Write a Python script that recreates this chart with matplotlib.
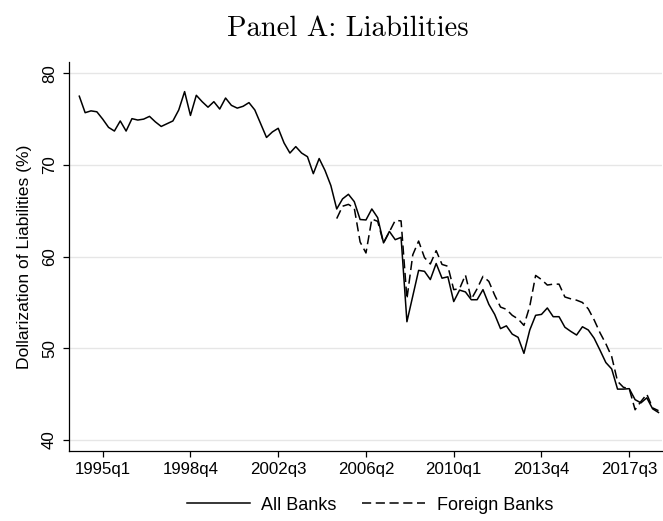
import numpy as np
import matplotlib
matplotlib.use("Agg")
import matplotlib.pyplot as plt

# Quarterly data, 1994q1 .. 2018q4
start_year = 1994
all_banks = [
    77.5, 75.7, 75.9, 75.8, 75.0, 74.1, 73.7, 74.8, 73.7, 75.05,
    74.9, 75.0, 75.3, 74.7, 74.2, 74.5, 74.8, 76.0, 78.0, 75.4,
    77.6, 76.9, 76.3, 76.9, 76.1, 77.3, 76.5, 76.2, 76.4, 76.8,
    76.0, 74.5, 73.0, 73.6, 74.0, 72.4, 71.3, 72.0, 71.3, 70.9,
    69.05, 70.7, 69.4, 67.75, 65.2, 66.3, 66.8, 66.0, 64.05, 64.0,
    65.2, 64.25, 61.5, 62.75, 61.85, 62.1, 52.9, 55.7, 58.5, 58.4,
    57.5, 59.25, 57.65, 57.8, 55.1, 56.35, 56.15, 55.3, 55.3, 56.4,
    54.8, 53.7, 52.15, 52.45, 51.55, 51.2, 49.45, 52.0, 53.6, 53.7,
    54.4, 53.45, 53.45, 52.3, 51.85, 51.45, 52.35, 52.0, 51.1, 49.8,
    48.45, 47.75, 45.55, 45.55, 45.6, 44.4, 44.05, 44.6, 43.4, 43.0,
]
foreign_banks = [np.nan] * 44 + [
    64.15, 65.5, 65.7, 65.3, 61.6, 60.4,
    64.1, 63.85, 61.5, 62.7, 63.95, 63.9, 55.4, 60.2, 61.7, 59.9,
    59.2, 60.65, 59.15, 58.95, 56.4, 56.5, 58.0, 55.35, 56.5, 57.85,
    57.3, 55.8, 54.5, 54.25, 53.6, 53.2, 52.5, 54.6, 57.95, 57.5,
    56.9, 57.0, 57.0, 55.6, 55.4, 55.25, 55.0, 54.3, 53.1, 51.7,
    50.5, 49.1, 46.4, 45.75, 45.6, 43.3, 44.2, 45.0, 43.5, 43.2,
]
tick_labels = ["1995q1", "1998q4", "2002q3", "2006q2", "2010q1", "2013q4", "2017q3"]
y_ticks = [40, 50, 60, 70, 80]

def qindex(lbl):
    y, q = lbl.split("q")
    return (int(y) - start_year) * 4 + int(q) - 1

t = np.arange(len(all_banks))

fig = plt.figure(figsize=(6.63, 5.21), dpi=100)
ax = fig.add_axes([69/663, (521-451)/521, (662-69)/663, (451-62)/521])

sans = ["Liberation Sans", "DejaVu Sans"]

ax.plot(t, all_banks, color="black", lw=1.1, label="All Banks")
ax.plot(t, foreign_banks, color="black", lw=1.1, dashes=(6, 3), label="Foreign Banks")

ax.set_xlim(-1.76, 99.6)
ax.set_ylim(38.8, 81.23)
ax.set_yticks(y_ticks)
ax.set_xticks([qindex(l) for l in tick_labels])
ax.set_xticklabels(tick_labels, fontfamily=sans, fontsize=12.2)
ax.set_yticklabels([str(v) for v in y_ticks], fontfamily=sans, fontsize=12.2,
                   rotation=90, va="center")
ax.tick_params(axis="both", direction="out", length=4.6, width=0.9, color="black")
ax.tick_params(axis="x", pad=3)
ax.tick_params(axis="y", pad=4)

ax.grid(axis="y", color="#e6e6e6", lw=1.0)
ax.set_axisbelow(True)
for s in ["top", "right"]:
    ax.spines[s].set_visible(False)
for s in ["left", "bottom"]:
    ax.spines[s].set_linewidth(0.9)

ax.set_ylabel("Dollarization of Liabilities (%)", fontfamily=sans, fontsize=12.6, labelpad=7)

fig.text(348/663, 1 - 29/521, "Panel A: Liabilities", fontfamily="cmr10", fontsize=20.6,
         ha="center", va="center")

leg = fig.legend(loc="center", bbox_to_anchor=(370/663, 1 - 505/521), ncol=2, frameon=False,
                 prop={"family": sans, "size": 13}, handlelength=3.5,
                 columnspacing=1.4, handletextpad=0.62)

fig.savefig("out.png", dpi=100)
